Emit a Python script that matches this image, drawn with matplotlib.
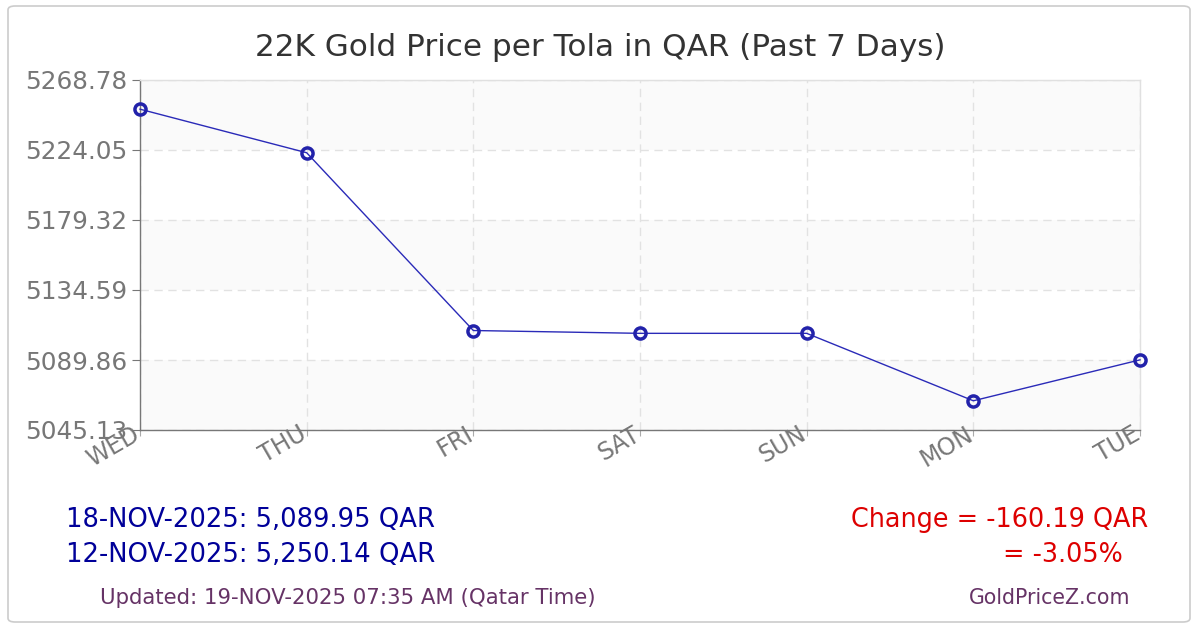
import matplotlib
matplotlib.use("Agg")
import matplotlib.pyplot as plt
from matplotlib.patches import FancyBboxPatch
from matplotlib.transforms import blended_transform_factory, ScaledTranslation
import numpy as np

days = ["WED", "THU", "FRI", "SAT", "SUN", "MON", "TUE"]
prices = [5250.14, 5222.3, 5108.7, 5106.9, 5106.9, 5063.8, 5089.95]
yticks = [5045.13, 5089.86, 5134.59, 5179.32, 5224.05, 5268.78]
title = "22K Gold Price per Tola in QAR (Past 7 Days)"
line1 = "18-NOV-2025: 5,089.95 QAR"
line2 = "12-NOV-2025: 5,250.14 QAR"
change1 = "Change = -160.19 QAR"
change2 = "= -3.05%"
updated = "Updated: 19-NOV-2025 07:35 AM (Qatar Time)"
site = "GoldPriceZ.com"

plt.rcParams['font.family'] = ['DejaVu Sans']
W, H = 1200, 630
fig = plt.figure(figsize=(12, 6.3), dpi=100)
fig.patch.set_facecolor("white")

def fx(x):
    return x / W

def fy(y):
    return 1 - y / H

# outer border
border = FancyBboxPatch((fx(8), fy(622)), fx(1190) - fx(8), fy(6) - fy(622),
                        boxstyle="round,pad=0,rounding_size=0.006",
                        transform=fig.transFigure, facecolor="none",
                        edgecolor="#cccccc", linewidth=1.2, zorder=-1)
fig.patches.append(border)

L, R, T, B = 140, 1140, 80, 430
ax = fig.add_axes([fx(L), fy(B), fx(R) - fx(L), fy(T) - fy(B)])
ax.set_facecolor("white")
x = np.arange(len(days))
ax.set_xlim(0, len(days) - 1)
ax.set_ylim(yticks[0], yticks[-1])

# alternating bands
for i in range(len(yticks) - 1):
    if i % 2 == 0:
        ax.axhspan(yticks[i], yticks[i + 1], color="#fafafa", zorder=0, lw=0)

ax.grid(True, color="#e2e2e2", linestyle=(0, (6, 4)), linewidth=1, zorder=1)
ax.set_axisbelow(True)
ax.plot(x, prices, color="#2a2ab8", linewidth=1, zorder=3, clip_on=False)
ax.plot(x, prices, linestyle="none", marker="o", markersize=8,
        markerfacecolor="none", markeredgecolor="#2222aa", markeredgewidth=2.5,
        zorder=4, clip_on=False)

ax.set_xticks(x)
ax.set_xticklabels([""] * len(days))
ax.set_yticks(yticks)
ax.set_yticklabels([f"{v:.2f}" for v in yticks])
ax.tick_params(axis="x", length=4, color="#aaaaaa")
ax.tick_params(axis="y", length=6, color="#777777", labelsize=17.8, labelcolor="#777777", pad=3)

xlab_tr = blended_transform_factory(ax.transData, ax.transAxes) + \
    ScaledTranslation(-0.08, 0.08, fig.dpi_scale_trans)
for xi, d in zip(x, days):
    ax.text(xi, 0, d, transform=xlab_tr, rotation=30, rotation_mode="anchor",
            ha="right", va="top", fontsize=17, color="#777777", clip_on=False, zorder=5)

for s in ["left", "bottom"]:
    ax.spines[s].set_color("#777777")
    ax.spines[s].set_linewidth(1)
for s in ["top", "right"]:
    ax.spines[s].set_color("#e0e0e0")
    ax.spines[s].set_linewidth(1)

fig.text(fx(600), fy(48), title, ha="center", va="center", fontsize=22.4, color="#333333")
fig.text(fx(66), fy(520), line1, ha="left", va="center", fontsize=18.6, color="#000099")
fig.text(fx(66), fy(555), line2, ha="left", va="center", fontsize=18.6, color="#000099")
fig.text(fx(1148), fy(520), change1, ha="right", va="center", fontsize=18.4, color="#dd0000")
fig.text(fx(1123), fy(555), change2, ha="right", va="center", fontsize=18.4, color="#dd0000")
fig.text(fx(100), fy(598), updated, ha="left", va="center", fontsize=15.3, color="#663366")
fig.text(fx(1130), fy(598), site, ha="right", va="center", fontsize=14.8, color="#663366")

fig.savefig("out.png", dpi=100, facecolor="white")
